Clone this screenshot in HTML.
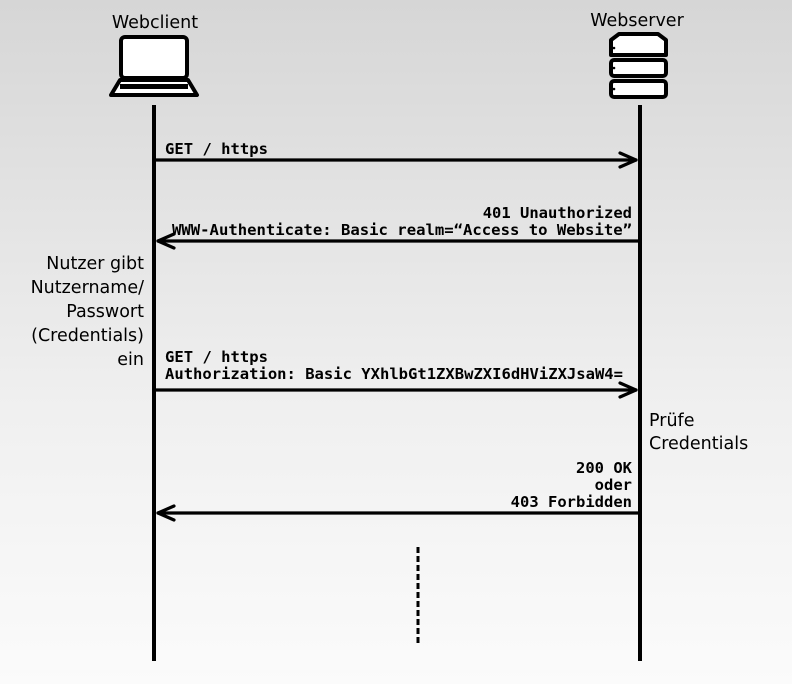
<!DOCTYPE html>
<html><head><meta charset="utf-8"><style>
html,body{margin:0;padding:0;}
body{width:792px;height:684px;background:linear-gradient(#d6d6d6,#f0f0f0 60%,#fbfbfb);overflow:hidden;}
svg{display:block}
.m{font-family:"DejaVu Sans Mono","Liberation Mono",monospace;font-weight:bold;font-size:15.5px;fill:#000}
.s{font-family:"DejaVu Sans","Liberation Sans",sans-serif;font-size:17.5px;fill:#000}
</style></head><body>
<svg width="792" height="684" viewBox="0 0 792 684">
<text class="s" x="155" y="28" text-anchor="middle">Webclient</text>
<text class="s" x="637" y="26" text-anchor="middle">Webserver</text>
<rect x="121" y="37" width="66" height="41" rx="4" fill="#fff" stroke="#000" stroke-width="4"/>
<path d="M120 80 L188 80 L197 95 L111 95 Z" fill="#fff" stroke="#000" stroke-width="4" stroke-linejoin="round"/>
<rect x="120" y="84" width="68" height="5" fill="#000"/>
<path d="M611 40 L619 34 L658 34 L666 40 L666 55 L611 55 Z" fill="#fff" stroke="#000" stroke-width="4" stroke-linejoin="round"/>
<rect x="611" y="60" width="55" height="16" rx="3" fill="#fff" stroke="#000" stroke-width="4"/>
<rect x="611" y="81" width="55" height="16" rx="3" fill="#fff" stroke="#000" stroke-width="4"/>
<circle cx="614" cy="48" r="1.3" fill="#000"/><circle cx="614" cy="68" r="1.3" fill="#000"/><circle cx="614" cy="89" r="1.3" fill="#000"/>
<line x1="154" y1="105" x2="154" y2="661" stroke="#000" stroke-width="4"/>
<line x1="640" y1="105" x2="640" y2="661" stroke="#000" stroke-width="4"/>
<line x1="418" y1="547" x2="418" y2="645" stroke="#000" stroke-width="3" stroke-dasharray="6,3"/>
<g stroke="#000" stroke-width="3.2" fill="none" stroke-linecap="round" stroke-linejoin="round">
<line x1="156" y1="160" x2="636" y2="160"/><path d="M620 153 L636 160 L620 167"/>
<line x1="158" y1="241" x2="638" y2="241"/><path d="M174 234 L158 241 L174 248"/>
<line x1="156" y1="390" x2="636" y2="390"/><path d="M620 383 L636 390 L620 397"/>
<line x1="158" y1="513" x2="638" y2="513"/><path d="M174 506 L158 513 L174 520"/>
</g>
<text class="m" x="165" y="154" textLength="103" lengthAdjust="spacingAndGlyphs">GET / https</text>
<text class="m" x="632" y="218" text-anchor="end">401 Unauthorized</text>
<text class="m" x="172" y="235" textLength="460" lengthAdjust="spacingAndGlyphs">WWW-Authenticate: Basic realm=“Access to Website”</text>
<text class="m" x="165" y="362" textLength="103" lengthAdjust="spacingAndGlyphs">GET / https</text>
<text class="m" x="165" y="379" textLength="458" lengthAdjust="spacingAndGlyphs">Authorization: Basic YXhlbGt1ZXBwZXI6dHViZXJsaW4=</text>
<text class="m" x="632" y="473" text-anchor="end">200 OK</text>
<text class="m" x="632" y="490" text-anchor="end">oder</text>
<text class="m" x="632" y="507" text-anchor="end">403 Forbidden</text>
<g class="s" text-anchor="end">
<text x="144" y="269">Nutzer gibt</text>
<text x="144" y="293">Nutzername/</text>
<text x="144" y="317">Passwort</text>
<text x="144" y="341">(Credentials)</text>
<text x="144" y="365">ein</text>
</g>
<text class="s" x="649" y="426">Prüfe</text>
<text class="s" x="649" y="449">Credentials</text>
</svg>
</body></html>
